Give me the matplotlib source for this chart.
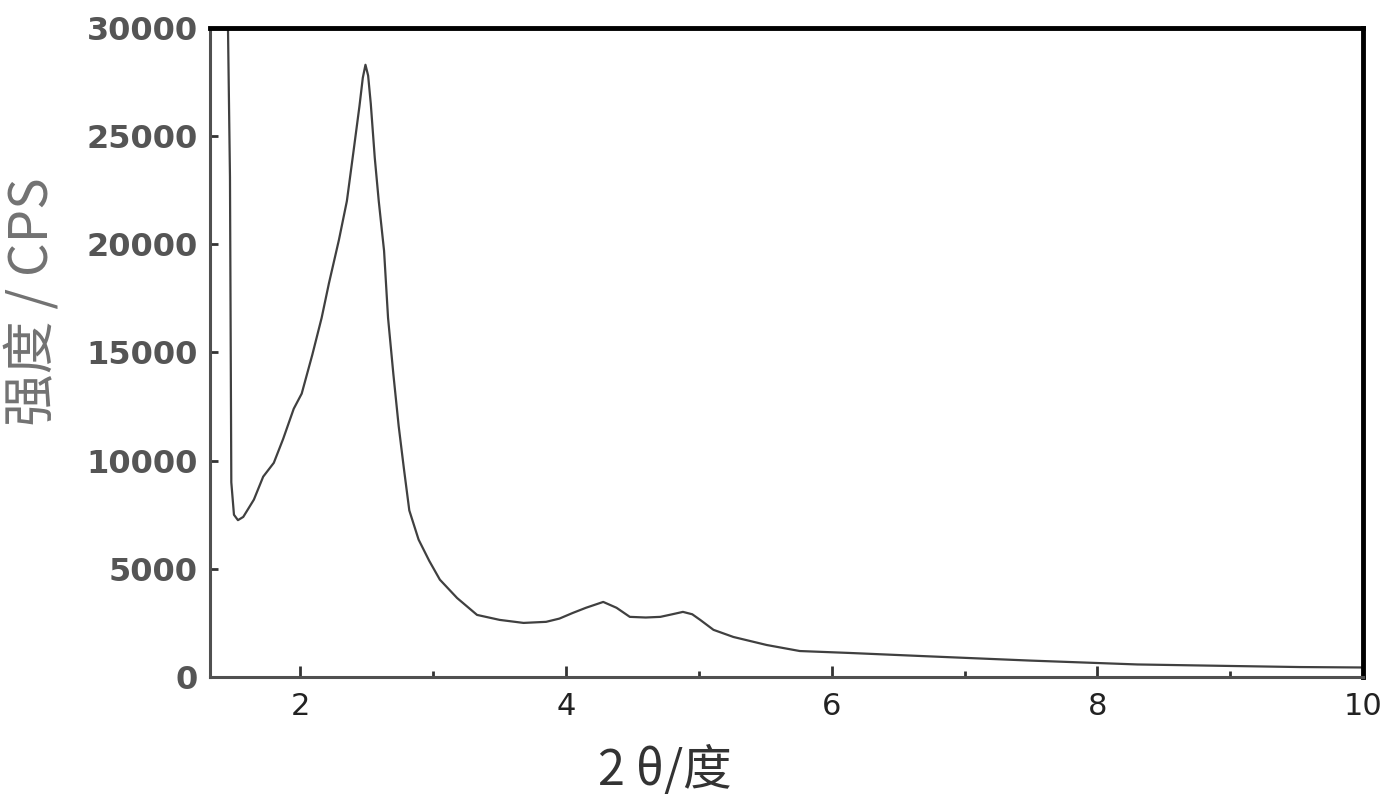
import matplotlib
matplotlib.use("Agg")
import matplotlib.pyplot as plt
from matplotlib.ticker import MultipleLocator

# XRD pattern: 2-theta (deg) vs intensity (CPS)
two_theta = [1.44, 1.455, 1.47, 1.48, 1.50, 1.53, 1.57, 1.65, 1.72, 1.80,
             1.87, 1.95, 2.01, 2.09, 2.16, 2.215, 2.29, 2.35, 2.40, 2.445,
             2.47, 2.49, 2.51, 2.53, 2.56, 2.59, 2.63, 2.66, 2.70, 2.74,
             2.78, 2.82, 2.89, 2.97, 3.05, 3.18, 3.33, 3.50, 3.68, 3.85,
             3.95, 4.05, 4.15, 4.28, 4.38, 4.48, 4.60, 4.71, 4.80, 4.88,
             4.95, 5.01, 5.11, 5.26, 5.51, 5.76, 6.14, 6.71, 7.49, 8.30,
             9.00, 9.52, 10.0]
intensity = [32000, 30000, 23100, 9000, 7500, 7250, 7400, 8200, 9260, 9900,
             11000, 12400, 13100, 14900, 16600, 18200, 20200, 22000, 24300, 26400,
             27700, 28300, 27800, 26500, 24000, 22000, 19700, 16600, 14000, 11600,
             9600, 7700, 6350, 5370, 4500, 3650, 2870, 2640, 2500, 2550,
             2700, 2960, 3200, 3470, 3200, 2780, 2750, 2780, 2900, 3010,
             2900, 2640, 2180, 1850, 1480, 1200, 1110, 960, 760, 580,
             510, 460, 440]

x_ticks = [2, 4, 6, 8, 10]
y_ticks = [0, 5000, 10000, 15000, 20000, 25000, 30000]

fig = plt.figure(figsize=(13.92, 8), dpi=100)
ax = fig.add_axes([0.1509, 0.15375, 0.8283, 0.81125])

ax.plot(two_theta, intensity, color='#404040', lw=1.6)

ax.set_xlim(1.32, 10)
ax.set_ylim(0, 30000)
ax.set_xticks(x_ticks)
ax.set_yticks(y_ticks)
ax.xaxis.set_minor_locator(MultipleLocator(1))

for s in ['left', 'bottom']:
    ax.spines[s].set_color('#505050')
    ax.spines[s].set_linewidth(2.2)
for s in ['top', 'right']:
    ax.spines[s].set_color('black')
    ax.spines[s].set_linewidth(3.5)

ax.tick_params(axis='x', which='major', direction='in', length=8, width=2,
               color='#333333', pad=11, labelsize=22, labelcolor='#222222')
ax.tick_params(axis='x', which='minor', direction='in', length=4, width=2,
               color='#333333')
ax.tick_params(axis='y', which='major', direction='in', length=6, width=2,
               color='#333333', pad=9, labelsize=23, labelcolor='#555555')
for lab in ax.get_yticklabels():
    lab.set_fontweight('bold')

cjk = ['Noto Sans CJK SC', 'DejaVu Sans']
fig.text(32 / 1392, 1 - 302 / 800, '强度 / CPS', rotation=90, ha='center',
         va='center', fontsize=38, color='#727272', family=cjk)
fig.text(665 / 1392, 1 - 771 / 800, '2 θ/度', ha='center', va='center',
         fontsize=35, color='#333333', family=cjk)

fig.savefig('out.png', dpi=100)
